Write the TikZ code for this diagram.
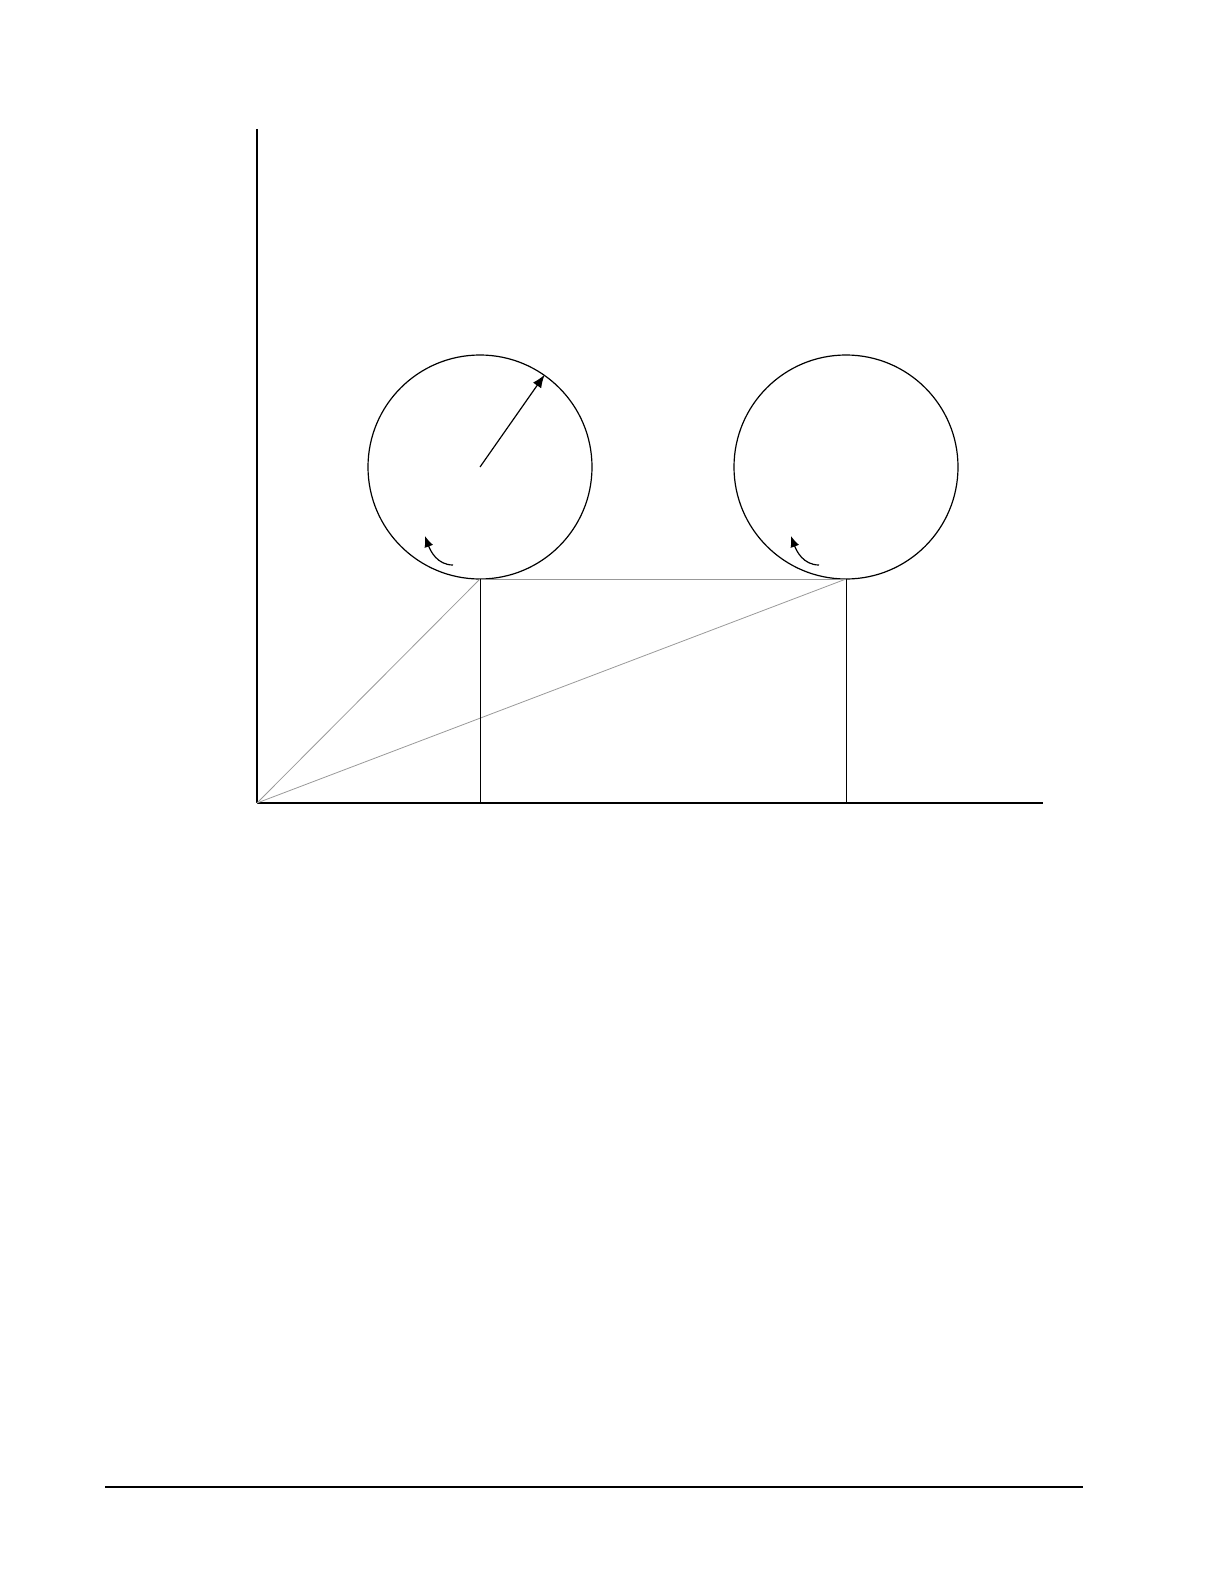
\documentclass[tikz,border=0pt]{standalone}
\usetikzlibrary{arrows.meta}
\begin{document}
\begin{tikzpicture}[x=1pt,y=-1pt,
  wheel/.style={circle,draw,line width=1.2pt,minimum size=224pt,inner sep=0pt},
  axisline/.style={line width=1.2pt},
  xaxisline/.style={line width=2.2pt},
  guide/.style={draw=gray!80,line width=0.8pt},
  stem/.style={line width=0.9pt},
  pointer/.style={line width=1.2pt,-{Latex[length=13pt,width=10pt]}},
  spin/.style={line width=1.2pt,-{Latex[length=11pt,width=9pt]}}]
\useasboundingbox (0,0) rectangle (1224,1584);
% axes
\coordinate (O) at (257,803);
\coordinate (ytop) at (257,129);
\coordinate (xend) at (1043,803);
\draw[axisline] (ytop) -- (O);
\draw[xaxisline] (O) -- (xend);
% wheels
\node[wheel] (c1) at (480,467) {};
\node[wheel] (c2) at (846,467) {};
\coordinate (p1) at (480,579);
\coordinate (p2) at (846,579);
\coordinate (f1) at (480,803);
\coordinate (f2) at (846,803);
% guide lines
\draw[guide] (O) -- (p1);
\draw[guide] (O) -- (p2);
\draw[guide] (p1) -- (p2);
% vertical stems
\draw[stem] (p1) -- (f1);
\draw[stem] (p2) -- (f2);
% radius arrow
\draw[pointer] (c1.center) -- (c1.55.6);
% spin arrows
\coordinate (s1a) at (453,565);
\coordinate (s1b) at (425,536);
\coordinate (s2a) at (819,565);
\coordinate (s2b) at (791,536);
\draw[spin] (s1a) to[out=180,in=-70] (s1b);
\draw[spin] (s2a) to[out=180,in=-70] (s2b);
% bottom rule
\coordinate (r1) at (105,1487);
\coordinate (r2) at (1083,1487);
\draw[line width=2.5pt] (r1) -- (r2);
\end{tikzpicture}
\end{document}
